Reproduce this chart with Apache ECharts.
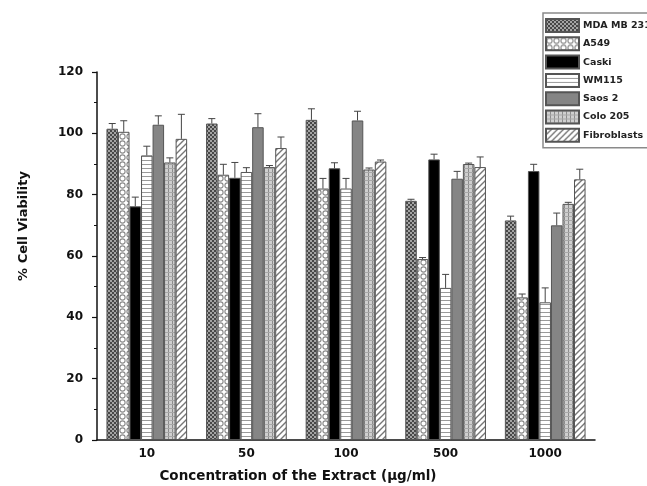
<!DOCTYPE html>
<html>
<head>
<meta charset="utf-8">
<script src="https://cdn.jsdelivr.net/npm/echarts@6/dist/echarts.min.js"></script>
<style>
  html, body { margin: 0; padding: 0; background: #fff; }
  #chart { width: 647px; height: 486px; }
</style>
</head>
<body>
<div id="chart"></div>
<script>
// Extract concentrations (µg/ml) on the category axis
const concentrations = ['10', '50', '100', '500', '1000'];
const cellLines = ['MDA MB 231', 'A549', 'Caski', 'WM115', 'Saos 2', 'Colo 205', 'Fibroblasts'];
const yTicks = [0, 20, 40, 60, 80, 100, 120];

// % cell viability per cell line, one value per concentration
const mdaMb231 = [101.5, 103.2, 104.4, 78.0, 71.6];
const a549 = [100.5, 86.5, 82.0, 59.0, 46.5];
const caski = [76.2, 85.5, 88.6, 91.5, 87.7];
const wm115 = [92.8, 87.4, 82.0, 49.6, 44.9];
const saos2 = [102.8, 102.0, 104.2, 85.2, 70.0];
const colo205 = [90.5, 89.0, 88.2, 90.0, 77.0];
const fibroblasts = [98.2, 95.2, 90.8, 89.0, 85.0];

// Upper error (SD) for each bar
const mdaMb231Err = [1.7, 1.6, 3.6, 0.5, 1.4];
const a549Err = [3.6, 3.4, 3.3, 0.5, 1.1];
const caskiErr = [3.0, 5.0, 1.8, 1.7, 2.2];
const wm115Err = [3.0, 1.4, 3.3, 4.4, 4.7];
const saos2Err = [2.9, 4.4, 3.0, 2.4, 4.0];
const colo205Err = [1.5, 0.5, 0.5, 0.3, 0.5];
const fibroblastsErr = [8.0, 3.6, 0.5, 3.3, 3.3];

const values = [mdaMb231, a549, caski, wm115, saos2, colo205, fibroblasts];
const errors = [mdaMb231Err, a549Err, caskiErr, wm115Err, saos2Err, colo205Err, fibroblastsErr];

const FONT = '"DejaVu Sans", Verdana, sans-serif';
const CAT_GAP = 0.19;

// Small repeating tiles used as hatched fills
function tile(w, h, draw) {
  const c = document.createElement('canvas');
  c.width = w; c.height = h;
  const g = c.getContext('2d');
  draw(g, w, h);
  return { image: c, repeat: 'repeat' };
}

const fills = [
  // dense checker
  tile(4, 4, function (g) {
    g.fillStyle = '#a4a4a4'; g.fillRect(0, 0, 4, 4);
    g.fillStyle = '#474747'; g.fillRect(0, 0, 2, 2); g.fillRect(2, 2, 2, 2);
  }),
  // open rings
  tile(7, 7, function (g) {
    g.fillStyle = '#ffffff'; g.fillRect(0, 0, 7, 7);
    g.strokeStyle = '#8a8a8a'; g.lineWidth = 1.1;
    g.beginPath(); g.arc(3.5, 3.5, 2.6, 0, Math.PI * 2); g.stroke();
  }),
  // solid black
  '#000000',
  // horizontal lines
  tile(4, 4, function (g) {
    g.fillStyle = '#ffffff'; g.fillRect(0, 0, 4, 4);
    g.fillStyle = '#9a9a9a'; g.fillRect(0, 0, 4, 1);
  }),
  // solid gray
  '#858585',
  // fine grid
  tile(4, 4, function (g) {
    g.fillStyle = '#cfcfcf'; g.fillRect(0, 0, 4, 4);
    g.fillStyle = '#8c8c8c'; g.fillRect(0, 0, 1, 4);
    g.fillStyle = '#a8a8a8'; g.fillRect(0, 0, 4, 1);
  }),
  // diagonal hatching
  tile(6, 6, function (g) {
    g.fillStyle = '#ffffff'; g.fillRect(0, 0, 6, 6);
    g.strokeStyle = '#777777'; g.lineWidth = 1.4;
    g.beginPath();
    g.moveTo(0, 6); g.lineTo(6, 0);
    g.moveTo(-1, 1); g.lineTo(1, -1);
    g.moveTo(5, 7); g.lineTo(7, 5);
    g.stroke();
  })
];

const barSeries = cellLines.map(function (name, i) {
  return {
    name: name,
    type: 'bar',
    data: values[i],
    barGap: '0%',
    barCategoryGap: (CAT_GAP * 100) + '%',
    itemStyle: { color: fills[i], borderColor: '#555', borderWidth: 1 },
    emphasis: { disabled: true },
    z: 2
  };
});

// Upward error bars placed over their bar slot
const errorSeries = cellLines.map(function (name, i) {
  const n = cellLines.length;
  return {
    name: name + ' SD',
    type: 'custom',
    data: values[i].map(function (v, k) { return [k, v, errors[i][k]]; }),
    encode: { x: 0, y: 1 },
    z: 5,
    silent: true,
    renderItem: function (params, api) {
      const c = api.value(0), v = api.value(1), e = api.value(2);
      const band = api.size([1, 0])[0];
      const bw = band * (1 - CAT_GAP) / n;
      const base = api.coord([c, v]);
      const top = api.coord([c, v + e]);
      const x = base[0] + (i - (n - 1) / 2) * bw;
      const st = { stroke: '#444', lineWidth: 1 };
      return {
        type: 'group',
        children: [
          { type: 'line', shape: { x1: x, y1: base[1], x2: x, y2: top[1] }, style: st },
          { type: 'line', shape: { x1: x - 3.5, y1: top[1], x2: x + 3.5, y2: top[1] }, style: st }
        ]
      };
    }
  };
});

const chart = echarts.init(document.getElementById('chart'), null, { renderer: 'canvas' });
chart.setOption({
  backgroundColor: '#ffffff',
  animation: false,
  grid: { left: 97, right: 52, top: 72, bottom: 46, containLabel: false },
  legend: {
    data: cellLines,
    orient: 'vertical',
    left: 543,
    top: 13,
    padding: [5, 30, 5, 2],
    itemWidth: 33,
    itemHeight: 13,
    itemGap: 3.3,
    icon: 'rect',
    backgroundColor: '#ffffff',
    borderColor: '#8a8a8a',
    borderWidth: 1.5,
    selectedMode: false,
    textStyle: { fontFamily: FONT, fontWeight: 'bold', fontSize: 9.5, lineHeight: 13, color: '#222', padding: [0, 0, 0, -1] }
  },
  xAxis: {
    type: 'category',
    data: concentrations,
    axisLine: { lineStyle: { color: '#111', width: 1.5 } },
    axisTick: { show: false },
    axisLabel: { fontFamily: FONT, fontWeight: 'bold', fontSize: 12, color: '#111', margin: 8 }
  },
  yAxis: {
    type: 'value',
    min: yTicks[0],
    max: yTicks[yTicks.length - 1],
    interval: yTicks[1] - yTicks[0],
    axisLine: { show: true, lineStyle: { color: '#111', width: 1.5 } },
    axisTick: { show: true, inside: false, length: 5, lineStyle: { color: '#111', width: 1.2 } },
    minorTick: { show: true, splitNumber: 2, length: 3, lineStyle: { color: '#111', width: 1 } },
    splitLine: { show: false },
    axisLabel: { fontFamily: FONT, fontWeight: 'bold', fontSize: 12, color: '#111', margin: 14 }
  },
  graphic: [
    {
      type: 'text', x: 24, y: 226, rotation: Math.PI / 2,
      style: { text: '% Cell Viability', font: 'bold 13px ' + FONT, fill: '#111', textAlign: 'center', textVerticalAlign: 'middle' }
    },
    {
      type: 'text', x: 298, y: 476,
      style: { text: 'Concentration of the Extract (\u03bcg/ml)', font: 'bold 13.5px ' + FONT, fill: '#111', textAlign: 'center', textVerticalAlign: 'middle' }
    }
  ],
  series: barSeries.concat(errorSeries)
});
</script>
</body>
</html>
